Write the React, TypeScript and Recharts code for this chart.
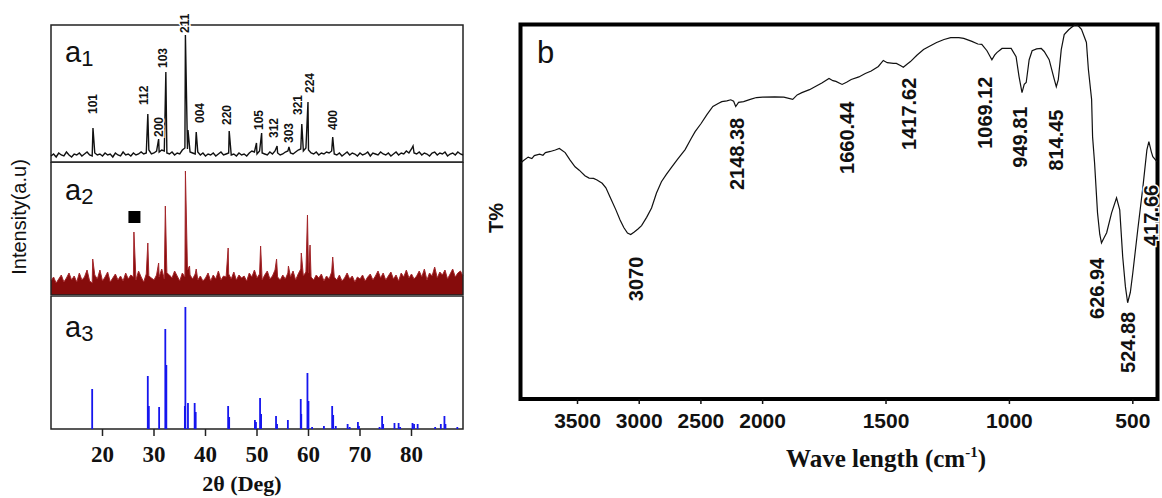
import React from "react";
import { ComposedChart, BarChart, Bar, Line, Area, Scatter, XAxis, YAxis, ReferenceArea } from "recharts";

// ---- XRD (left panel), 2θ from 10 to 90, baseline sampled every 0.5° ----
const xrdTicks = [20, 30, 40, 50, 60, 70, 80];

const a1Base = [
  6, 8, 5, 9, 7, 6, 10, 7, 5, 8,
  7, 9, 6, 8, 10, 7, 6, 9, 7, 8,
  6, 9, 7, 8, 5, 9, 7, 6, 10, 7,
  8, 6, 9, 7, 8, 10, 8, 9, 12, 8,
  9, 11, 10, 12, 11, 9, 8, 10, 7, 9,
  8, 12, 14, 13, 10, 9, 8, 10, 7, 9,
  6, 8, 7, 9, 6, 8, 10, 7, 8, 9,
  7, 8, 6, 9, 7, 8, 6, 9, 11, 10,
  8, 11, 9, 8, 7, 10, 8, 11, 9, 7,
  8, 10, 11, 9, 8, 10, 12, 13, 11, 14,
  12, 9, 8, 10, 7, 9, 8, 10, 9, 11,
  8, 7, 9, 6, 8, 10, 7, 9, 8, 6,
  9, 7, 8, 10, 6, 9, 8, 7, 10, 8,
  7, 9, 6, 8, 10, 7, 9, 8, 11, 9,
  13, 9, 8, 10, 7, 9, 8, 6, 9, 10,
  7, 9, 8, 10, 6, 8, 9, 7, 10, 8,
  7,
];

const a1Peaks: [number, number][] = [
  [18.15, 34], [28.8, 48], [30.9, 23], [32.3, 90], [36.1, 127], [36.6, 32],
  [38.2, 30], [44.6, 31], [49.9, 19], [50.9, 29], [53.9, 16], [56.2, 15],
  [58.7, 38], [59.9, 60], [64.7, 25], [80.3, 16],
];

const a1Labels = [
  { x: 18.2, y: 48, text: "101" }, { x: 28.1, y: 57, text: "112" },
  { x: 31.0, y: 25, text: "200" }, { x: 31.8, y: 94, text: "103" },
  { x: 35.9, y: 129, text: "211" }, { x: 38.8, y: 39, text: "004" },
  { x: 44.2, y: 37, text: "220" }, { x: 50.4, y: 32, text: "105" },
  { x: 53.3, y: 24, text: "312" }, { x: 56.1, y: 19, text: "303" },
  { x: 58.0, y: 47, text: "321" }, { x: 60.3, y: 69, text: "224" },
  { x: 64.8, y: 32, text: "400" },
];

const a2Base = [
  14, 18, 12, 16, 20, 13, 17, 22, 15, 19,
  13, 22, 15, 18, 25, 14, 12, 20, 16, 25,
  14, 18, 23, 13, 17, 21, 15, 19, 14, 22,
  16, 20, 18, 15, 24, 18, 13, 21, 19, 17,
  15, 20, 18, 26, 16, 22, 20, 17, 24, 19,
  14, 22, 18, 25, 20, 16, 21, 15, 19, 14,
  17, 22, 14, 20, 16, 24, 15, 19, 18, 21,
  16, 23, 15, 20, 17, 19, 14, 22, 18, 25,
  17, 21, 15, 20, 24, 16, 19, 25, 18, 15,
  20, 16, 22, 18, 24, 15, 21, 26, 19, 23,
  22, 18, 15, 20, 17, 21, 14, 19, 16, 23,
  18, 15, 20, 14, 17, 22, 16, 19, 13, 18,
  16, 20, 14, 18, 21, 15, 19, 24, 17, 22,
  15, 19, 23, 16, 20, 14, 22, 18, 25, 17,
  21, 16, 19, 24, 18, 26, 15, 22, 19, 28,
  17, 23, 20, 25, 16, 21, 26, 18, 22, 24,
  19,
];

const a2Peaks: [number, number][] = [
  [18.1, 36], [26.1, 63], [28.8, 52], [30.9, 32], [32.2, 89], [36.1, 124],
  [36.9, 29], [38.2, 26], [44.4, 47], [50.7, 49], [53.8, 36], [56.1, 29],
  [58.6, 42], [59.8, 80], [60.3, 50], [64.7, 38],
];

const a2Marker = [{ x: 26.2, y: 78 }];

const a3Sticks: [number, number][] = [
  [18.0, 40], [28.8, 53], [29.0, 23], [31.0, 22], [32.2, 100], [32.4, 64],
  [36.0, 23], [36.1, 122], [36.6, 26], [37.9, 26], [38.1, 17], [44.4, 23],
  [44.6, 12], [49.6, 9], [49.8, 7], [50.6, 31], [50.8, 15], [53.7, 13],
  [53.9, 5], [56.0, 9], [58.5, 30], [58.6, 15], [59.8, 56], [60.0, 28],
  [60.7, 2], [63.0, 3], [64.6, 23], [64.8, 14], [65.3, 3], [67.6, 5],
  [68.0, 2], [69.6, 7], [69.8, 3], [73.8, 2], [74.3, 13], [74.5, 5],
  [76.7, 6], [77.5, 6], [77.8, 2], [80.2, 6], [80.5, 5], [81.2, 5],
  [84.6, 2], [85.7, 5], [86.4, 13], [86.6, 5], [88.9, 2],
];

// ---- FTIR (right panel): wavenumber (cm-1), T% ----
const ftirTicks = [3500, 3000, 2500, 2000, 1500, 1000, 500];

const ftirPoints: [number, number][] = [
  [3960, 63.0], [3940, 63.6], [3900, 64.6], [3870, 64.2], [3850, 65.0], [3807, 65.4],
  [3780, 65.1], [3760, 65.8], [3720, 66.1], [3680, 66.5], [3647, 66.9], [3600, 65.8],
  [3560, 63.8], [3520, 62.0], [3486, 61.1], [3440, 59.6], [3406, 59.0], [3370, 58.9],
  [3342, 58.5], [3300, 57.6], [3270, 56.4], [3230, 53.5], [3189, 50.5], [3155, 47.8],
  [3125, 45.8], [3095, 44.3], [3069, 43.9], [3040, 44.6], [3010, 45.4], [2981, 46.3],
  [2940, 48.5], [2900, 51.0], [2860, 55.0], [2820, 58.0], [2780, 60.0], [2740, 61.8],
  [2690, 64.0], [2628, 66.6], [2580, 69.5], [2547, 71.4], [2500, 73.5], [2450, 76.0],
  [2403, 78.1], [2360, 78.9], [2331, 79.4], [2290, 79.6], [2258, 79.9], [2235, 79.5],
  [2218, 78.1], [2195, 79.2], [2154, 79.4], [2100, 80.0], [2050, 80.5], [2000, 80.6],
  [1951, 80.7], [1914, 80.6], [1878, 80.0], [1860, 81.2], [1841, 81.8], [1810, 82.6],
  [1788, 83.4], [1760, 84.4], [1731, 85.6], [1715, 85.0], [1703, 84.8], [1678, 84.0],
  [1660, 84.6], [1641, 85.3], [1610, 86.0], [1584, 86.9], [1560, 87.6], [1531, 88.8],
  [1511, 90.4], [1495, 89.8], [1470, 89.6], [1458, 89.6], [1440, 89.0], [1430, 88.6],
  [1415, 89.4], [1401, 90.1], [1375, 91.8], [1348, 93.3], [1320, 94.3], [1295, 95.2],
  [1265, 96.0], [1238, 96.5], [1205, 96.5], [1185, 96.3], [1152, 95.5], [1128, 94.8],
  [1112, 94.7], [1091, 93.0], [1071, 90.6], [1060, 91.8], [1051, 92.5], [1030, 93.6],
  [993, 93.6], [973, 91.4], [961, 86.1], [949, 81.8], [940, 84.0], [932, 84.5],
  [920, 90.6], [908, 93.0], [890, 93.5], [871, 93.6], [859, 92.8], [839, 90.6],
  [818, 85.3], [810, 83.4], [802, 85.3], [790, 93.3], [778, 97.3], [760, 98.6],
  [749, 99.2], [733, 100], [720, 99.6], [708, 98.7], [688, 95.2], [680, 88.0],
  [667, 80.0], [663, 70.0], [655, 63.1], [643, 49.7], [634, 44.0], [627, 41.7],
  [617, 43.0], [606, 44.4], [586, 49.7], [566, 53.7], [553, 50.5], [541, 38.0],
  [530, 30.0], [521, 25.7], [510, 28.5], [500, 33.7], [480, 45.2], [459, 56.7],
  [443, 66.5], [435, 68.7], [425, 66.0], [419, 64.7], [402, 63.4],
];

const ftirLabels = [
  { w: 3030, y: 38.0, text: "3070" }, { w: 2210, y: 75.1, text: "2148.38" },
  { w: 1658, y: 79.4, text: "1660.44" }, { w: 1405, y: 85.8, text: "1417.62" },
  { w: 1099, y: 86.1, text: "1069.12" }, { w: 957, y: 78.1, text: "949.81" },
  { w: 810, y: 77.3, text: "814.45" }, { w: 647, y: 37.7, text: "626.94" },
  { w: 521, y: 23.3, text: "524.88" }, { w: 428, y: 57.2, text: "417.66" },
];

// broken wavenumber axis: above 2000 cm-1 compressed 2x
const tx = (w: number) => (w >= 2000 ? (4000 - w) / 2 : 1000 + (2000 - w));

const mergePattern = (base: number[], peaks: [number, number][]) =>
  [...base.map((y, i) => ({ x: 10 + i * 0.5, y })), ...peaks.map(([x, y]) => ({ x, y }))].sort(
    (a, b) => a.x - b.x
  );

const a1Data = mergePattern(a1Base, a1Peaks);
const a2Data = mergePattern(a2Base, a2Peaks);
const a3Data = a3Sticks.map(([x, y]) => ({ x, y }));
const ftirData = ftirPoints.map(([w, t]) => ({ x: tx(w), y: t }));
const ftirLabelData = ftirLabels.map((l) => ({ x: tx(l.w), y: l.y, text: l.text }));

const SANS = "'Liberation Sans', Arial, sans-serif";
const SERIF = "'Liberation Serif', 'Times New Roman', serif";

const PeakLabel = (p: any) => (
  <text
    x={p.cx}
    y={p.cy}
    dy="0.35em"
    transform={`rotate(-90 ${p.cx} ${p.cy})`}
    textAnchor="start"
    fontFamily={SANS}
    fontWeight="bold"
    fontSize={12}
    fill="#111"
    stroke="#fff"
    strokeWidth={3}
    paintOrder="stroke"
  >
    {p.payload.text}
  </text>
);

const BandLabel = (p: any) => (
  <text
    x={p.cx}
    y={p.cy}
    dy="0.35em"
    transform={`rotate(-90 ${p.cx} ${p.cy})`}
    textAnchor="end"
    fontFamily={SANS}
    fontWeight="bold"
    fontSize={20}
    fill="#111"
    stroke="#fff"
    strokeWidth={3}
    paintOrder="stroke"
  >
    {p.payload.text}
  </text>
);

// thin stick centred on the bar slot that recharts computes
const Stick = (p: any) =>
  p.height > 0 ? (
    <rect x={p.x + p.width / 2 - 0.9} y={p.y} width={1.8} height={p.height} fill="#1616ee" />
  ) : null;

const xrdMargin = { right: 7, left: 51 };

export default function App() {
  return (
    <div style={{ position: "absolute", left: 0, top: 0, width: 1162, height: 498, background: "#fff" }}>
      {/* a1 */}
      <div style={{ position: "absolute", left: 0, top: 0 }}>
        <ComposedChart width={470} height={170} data={a1Data} margin={{ top: 25, bottom: 8, ...xrdMargin }}>
          <XAxis
            dataKey="x"
            type="number"
            domain={[10, 90]}
            ticks={xrdTicks}
            interval={0}
            height={0}
            axisLine={false}
            tickSize={4}
            tickLine={{ stroke: "#222" }}
            tickFormatter={() => ""}
          />
          <YAxis hide domain={[0, 137]} />
          <ReferenceArea x1={10} x2={90} y1={0} y2={137} fill="none" stroke="#222" strokeWidth={1.5} />
          <Line dataKey="y" stroke="#111" strokeWidth={1.4} dot={false} isAnimationActive={false} />
          <Scatter data={a1Labels} dataKey="y" shape={PeakLabel} isAnimationActive={false} />
        </ComposedChart>
      </div>

      {/* a2 */}
      <div style={{ position: "absolute", left: 0, top: 162 }}>
        <ComposedChart width={470} height={141} data={a2Data} margin={{ top: 0, bottom: 8, ...xrdMargin }}>
          <XAxis
            dataKey="x"
            type="number"
            domain={[10, 90]}
            ticks={xrdTicks}
            interval={0}
            height={0}
            axisLine={false}
            tickSize={4}
            tickLine={{ stroke: "#222" }}
            tickFormatter={() => ""}
          />
          <YAxis hide domain={[0, 133]} />
          <Area
            dataKey="y"
            type="linear"
            stroke="#a3262a"
            strokeWidth={1}
            fill="#860c0c"
            fillOpacity={1}
            dot={false}
            isAnimationActive={false}
          />
          <ReferenceArea x1={10} x2={90} y1={0} y2={133} fill="none" stroke="#222" strokeWidth={1.5} />
          <Scatter
            data={a2Marker}
            dataKey="y"
            isAnimationActive={false}
            shape={(p: any) => <rect x={p.cx - 6} y={p.cy - 6} width={12} height={12} fill="#000" />}
          />
        </ComposedChart>
      </div>

      {/* a3 */}
      <div style={{ position: "absolute", left: 0, top: 296 }}>
        <BarChart width={470} height={202} data={a3Data} margin={{ top: 0, bottom: 0, ...xrdMargin }}>
          <XAxis
            dataKey="x"
            type="number"
            domain={[10, 90]}
            ticks={xrdTicks}
            interval={0}
            height={69}
            axisLine={false}
            tickSize={7}
            tickMargin={10}
            tickLine={{ stroke: "#222", strokeWidth: 1.5 }}
            tick={{ fill: "#111", fontFamily: SERIF, fontWeight: "bold", fontSize: 23 }}
          />
          <YAxis hide domain={[0, 133]} />
          <ReferenceArea x1={10} x2={90} y1={0} y2={133} fill="none" stroke="#222" strokeWidth={1.5} />
          <Bar dataKey="y" fill="#1616ee" barSize={2} shape={Stick} isAnimationActive={false} />
        </BarChart>
      </div>

      {/* b */}
      <div style={{ position: "absolute", left: 480, top: 0 }}>
        <ComposedChart width={682} height={498} data={ftirData} margin={{ top: 24.5, right: 4.5, bottom: 0, left: 40.5 }}>
          <XAxis
            dataKey="x"
            type="number"
            domain={[19, 2600]}
            ticks={ftirTicks.map(tx)}
            interval={0}
            height={99}
            axisLine={false}
            tickSize={5}
            tickMargin={9}
            tickLine={{ stroke: "#111", strokeWidth: 1.5 }}
            tick={{ fill: "#111", fontFamily: SANS, fontWeight: "bold", fontSize: 21 }}
            tickFormatter={(v: number) => String(ftirTicks.find((w) => tx(w) === v) ?? "")}
          />
          <YAxis hide domain={[0, 100]} />
          <ReferenceArea x1={19} x2={2600} y1={0} y2={100} fill="none" stroke="#000" strokeWidth={4} />
          <Line dataKey="y" stroke="#111" strokeWidth={1.2} dot={false} isAnimationActive={false} />
          <Scatter data={ftirLabelData} dataKey="y" shape={BandLabel} isAnimationActive={false} />
        </ComposedChart>
      </div>

      {/* titles and panel letters */}
      <svg width={1162} height={498} style={{ position: "absolute", left: 0, top: 0, pointerEvents: "none" }}>
        <g fontFamily={SANS} fill="#111">
          <text x={65} y={62} fontSize={29}>
            a<tspan fontSize={22} dy={4}>1</tspan>
          </text>
          <text x={65} y={200} fontSize={29}>
            a<tspan fontSize={22} dy={4}>2</tspan>
          </text>
          <text x={65} y={337} fontSize={29}>
            a<tspan fontSize={22} dy={4}>3</tspan>
          </text>
          <text x={537} y={63} fontSize={31}>
            b
          </text>
          <text x={19} y={217} dy="0.35em" fontSize={20} textAnchor="middle" transform="rotate(-90 19 217)">
            Intensity(a.u)
          </text>
          <text x={496} y={218} dy="0.35em" fontSize={20} fontWeight="bold" textAnchor="middle" transform="rotate(-90 496 218)">
            T%
          </text>
        </g>
        <g fontFamily={SERIF} fontWeight="bold" fill="#111">
          <text x={242} y={491} fontSize={22} textAnchor="middle">
            2θ (Deg)
          </text>
          <text x={886} y={467} fontSize={25} textAnchor="middle">
            Wave length (cm<tspan fontSize={15} dy={-10}>-1</tspan><tspan dy={10}>)</tspan>
          </text>
        </g>
      </svg>
    </div>
  );
}
